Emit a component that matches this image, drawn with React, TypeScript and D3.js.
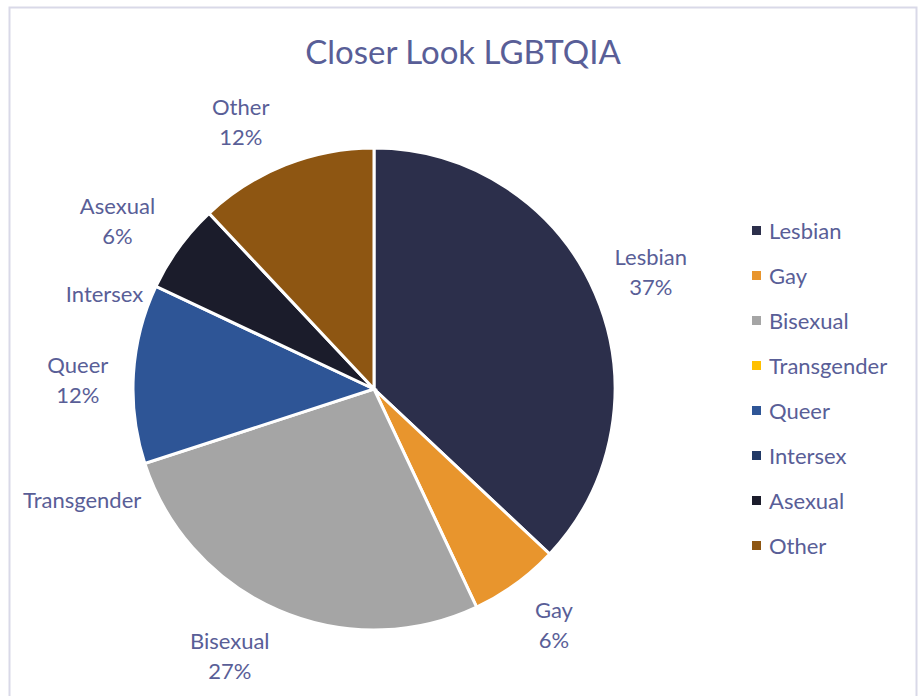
import { useEffect, useRef } from "react";
import * as d3 from "d3";

const categories = ["Lesbian", "Gay", "Bisexual", "Transgender", "Queer", "Intersex", "Asexual", "Other"];
const shares = [37, 6, 27, 0, 12, 0, 6, 12];
const colors = ["#2c2f4b", "#e8952d", "#a5a5a5", "#ffc000", "#2e5596", "#213966", "#1b1c2b", "#8e5612"];

// small label nudges (degrees, px) to mimic Excel's label placement
const labelShiftDeg = [0.7, -1.2, 4.9, -3, -2, -5.9, -3, -5];
const labelShiftR = [-4, 3, 0, -7, 6, -15, -1, -1];

const W = 923;
const H = 696;
const textColor = "#595e97";
const font = "Lato, 'Open Sans', sans-serif";

const App = () => {
  const ref = useRef<SVGSVGElement>(null);

  useEffect(() => {
    const svg = d3.select(ref.current);
    svg.selectAll("*").remove();
    svg.attr("width", W).attr("height", H);

    const data = categories.map((c, i) => ({ label: c, value: shares[i], color: colors[i], i }));

    // chart frame
    svg.append("rect")
      .attr("x", 9.5).attr("y", 7.5)
      .attr("width", 907).attr("height", 720)
      .attr("fill", "#fff")
      .attr("stroke", "#d9d9e8")
      .attr("stroke-width", 2);

    svg.append("text")
      .attr("x", 463).attr("y", 64)
      .attr("text-anchor", "middle")
      .attr("fill", textColor)
      .style("font-family", font)
      .style("font-size", "33px")
      .text("Closer Look LGBTQIA");

    const cx = 374, cy = 389, r = 241;
    const pie = d3.pie<any>().value(d => d.value).sort(null);
    const arcs = pie(data);
    const arc = d3.arc<any>().innerRadius(0).outerRadius(r);

    const g = svg.append("g").attr("transform", `translate(${cx},${cy})`);
    g.selectAll("path")
      .data(arcs.filter(d => d.data.value > 0))
      .join("path")
      .attr("d", arc)
      .attr("fill", d => d.data.color)
      .attr("stroke", "#fff")
      .style("stroke-width", "3px");

    // outside-end labels
    const lineH = 30;
    arcs.forEach(d => {
      const i = d.data.i;
      const mid = (d.startAngle + d.endAngle) / 2 + (labelShiftDeg[i] * Math.PI) / 180;
      const lines = d.data.value > 0 ? [d.data.label, `${d.data.value}%`] : [d.data.label];
      const t = g.append("text")
        .attr("fill", textColor)
        .attr("text-anchor", "middle")
        .style("font-family", font)
        .style("font-size", "22px");
      lines.forEach((l, k) => {
        t.append("tspan").attr("x", 0).attr("dy", k === 0 ? 0 : lineH).text(l);
      });
      const w = (t.node() as SVGTextElement).getBBox().width;
      const h = lines.length * lineH;
      const s = Math.sin(mid), c = -Math.cos(mid);
      const dist = r + 18 + labelShiftR[i] + (w / 2) * Math.abs(s) + (h / 2) * Math.abs(c);
      const lx = dist * s, ly = dist * c;
      const firstBase = ly - ((lines.length - 1) * lineH) / 2 + 7;
      t.attr("transform", `translate(${lx},${firstBase})`);
    });

    // legend
    const legend = svg.append("g").attr("transform", "translate(752,231)");
    const rows = legend.selectAll("g")
      .data(data)
      .join("g")
      .attr("transform", (d, i) => `translate(0,${i * 45})`);
    rows.append("rect")
      .attr("x", 0).attr("y", -5)
      .attr("width", 9).attr("height", 9)
      .attr("fill", d => d.color);
    rows.append("text")
      .attr("x", 17).attr("y", 8)
      .attr("fill", textColor)
      .style("font-family", font)
      .style("font-size", "22px")
      .text(d => d.label);
  }, []);

  return <svg ref={ref} style={{ position: "absolute", left: 0, top: 0 }}></svg>;
};

export default App;
